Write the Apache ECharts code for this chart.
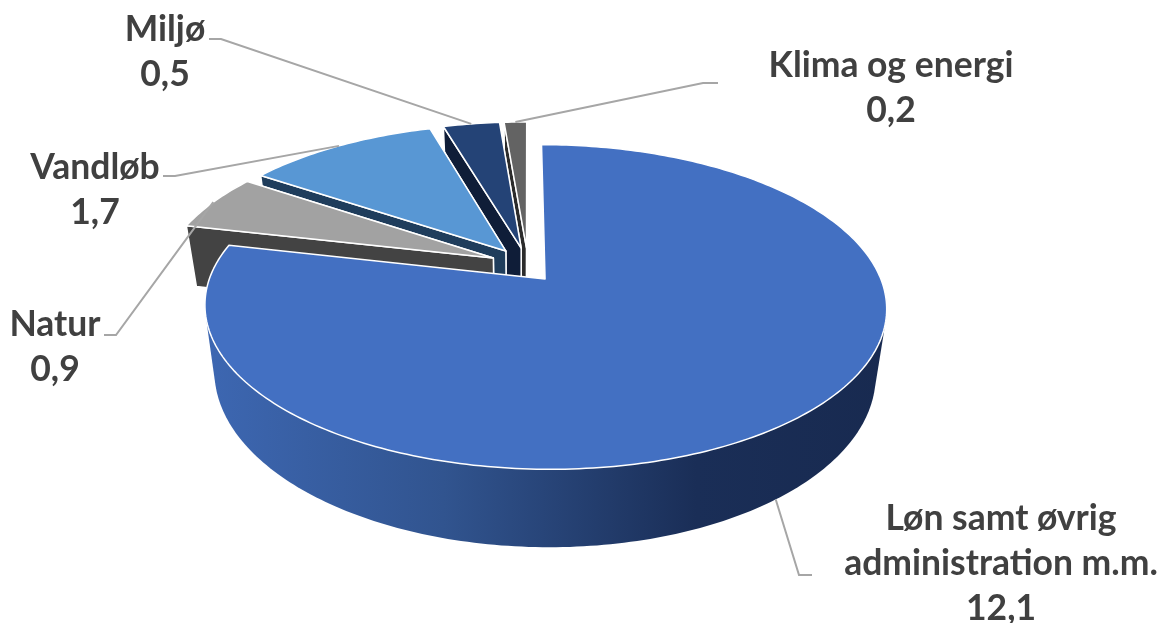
<!DOCTYPE html>
<html>
<head>
<meta charset="utf-8">
<style>html,body{margin:0;padding:0;background:#fff}#c{width:1161px;height:623px}</style>
<script src="https://cdn.jsdelivr.net/npm/echarts@6/dist/echarts.min.js"></script>
</head>
<body>
<div id="c"></div>
<script>
const categories = ['Løn samt øvrig\nadministration m.m.', 'Natur', 'Vandløb', 'Miljø', 'Klima og energi'];
const seriesValues = [12.1, 0.9, 1.7, 0.5, 0.2];

const topColors = ['#4370C2', '#A2A2A2', '#5897D4', '#244376', '#636363'];
const sideColors = ['#1A2E57', '#434343', '#1F3D5C', '#0F1D38', '#2B2B2B'];
const labelBoxes = [
  { x: 1001, y: 564, path: [[812, 575], [799, 575]] },
  { x: 55, y: 347, path: [[104, 335], [116, 335]] },
  { x: 95, y: 190, path: [[163, 176], [175, 176]] },
  { x: 165, y: 52, path: [[209, 39], [221, 39]] },
  { x: 891, y: 88, path: [[718, 83], [703, 83]] }
];

// perspective disc projection
const view = { cx: 521, cy: 265, A: 330.6, B: 152.7, k: 0.17, depth: 63.5, shrink: 0.97, explode: 0.115, backShift: 7 };
const total = seriesValues.reduce((a, b) => a + b, 0);
const rad = d => d * Math.PI / 180;
let acc = 0;
const slices = seriesValues.map((v, i) => {
  const start = acc; acc += v / total * 360;
  return { start, end: acc, mid: (start + acc) / 2, dx: i === 0 ? 0 : view.backShift };
});
function proj(s, a, r) {
  const u = r * Math.sin(rad(a)) + view.explode * Math.sin(rad(s.mid));
  const w = r * Math.cos(rad(a)) + view.explode * Math.cos(rad(s.mid));
  const d = 1 + view.k * w;
  return { x: view.cx + s.dx + view.A * u / d, y: view.cy - view.B * w / d, d };
}
const P = (s, a, r) => { const p = proj(s, a, r); return [p.x, p.y]; };
const Q = (s, a, r) => {
  const p = proj(s, a, r);
  return [view.cx + (p.x - view.cx) * view.shrink, p.y + view.depth / p.d];
};
function arc(fn, s, from, to) {
  const a0 = from === undefined ? s.start : from, a1 = to === undefined ? s.end : to;
  const pts = [];
  const n = Math.max(6, Math.ceil(a1 - a0));
  for (let i = 0; i <= n; i++) pts.push(fn(s, a0 + (a1 - a0) * i / n, 1));
  return pts;
}
function hull(points) {
  const pts = points.slice().sort((a, b) => a[0] - b[0] || a[1] - b[1]);
  const cross = (o, a, b) => (a[0] - o[0]) * (b[1] - o[1]) - (a[1] - o[1]) * (b[0] - o[0]);
  const half = list => {
    const out = [];
    list.forEach(p => {
      while (out.length > 1 && cross(out[out.length - 2], out[out.length - 1], p) <= 0) out.pop();
      out.push(p);
    });
    out.pop();
    return out;
  };
  return half(pts).concat(half(pts.slice().reverse()));
}
const fmt = v => String(v).replace('.', ',');
const mainWall = new echarts.graphic.LinearGradient(205, 0, 887, 0, [
  { offset: 0, color: '#3D67B2' },
  { offset: 0.35, color: '#31548F' },
  { offset: 0.72, color: '#1A2E57' },
  { offset: 1, color: '#182A50' }
], true);
const line = { stroke: '#FFFFFF', lineWidth: 1.5, lineJoin: 'round' };

function renderItem(params, api) {
  const i = api.value(0);
  const s = slices[i];
  const base = (4 - i) * 10;
  const poly = (points, fill, z2) => ({ type: 'polygon', z2: base + z2, shape: { points }, style: Object.assign({ fill }, line) });
  const children = [];
  const radial = a => [P(s, a, 0), P(s, a, 1), Q(s, a, 1), Q(s, a, 0)];
  const tops = arc(P, s);
  if (i === 0) {
    // front wall of the large slice: silhouette between the tangent points of the rim
    const front = arc(P, s, 95, 265).concat(arc(Q, s, 95, 265));
    children.push({ type: 'polygon', z2: base + 2, shape: { points: hull(front) }, style: { fill: mainWall } });
  } else {
    children.push(poly(tops.concat(arc(Q, s).reverse()), sideColors[i], 0));
    children.push(poly(radial(s.end), sideColors[i], 1));
    children.push(poly(radial(s.start), sideColors[i], 1));
  }
  children.push(poly([P(s, 0, 0)].concat(tops), topColors[i], 3));
  const box = labelBoxes[i];
  const anchor = i === 0 ? Q(s, s.mid + 1.5, 1) : P(s, s.mid, 1);
  children.push({
    type: 'polyline', z2: 105, shape: { points: box.path.concat([anchor]) },
    style: { fill: null, stroke: '#A6A6A6', lineWidth: 2 }
  });
  children.push({
    type: 'text', z2: 106, x: box.x, y: box.y,
    style: {
      text: categories[i] + '\n' + fmt(seriesValues[i]),
      fill: '#404040', font: 'bold 35.5px Lato',
      align: 'center', verticalAlign: 'middle', lineHeight: 45
    }
  });
  return { type: 'group', children };
}

const chart = echarts.init(document.getElementById('c'));
chart.setOption({
  animation: false,
  backgroundColor: '#FFFFFF',
  series: [{
    type: 'custom',
    coordinateSystem: 'none',
    renderItem,
    silent: true,
    data: [4, 3, 2, 1, 0].map(i => [i, seriesValues[i]])
  }]
});
</script>
</body>
</html>
